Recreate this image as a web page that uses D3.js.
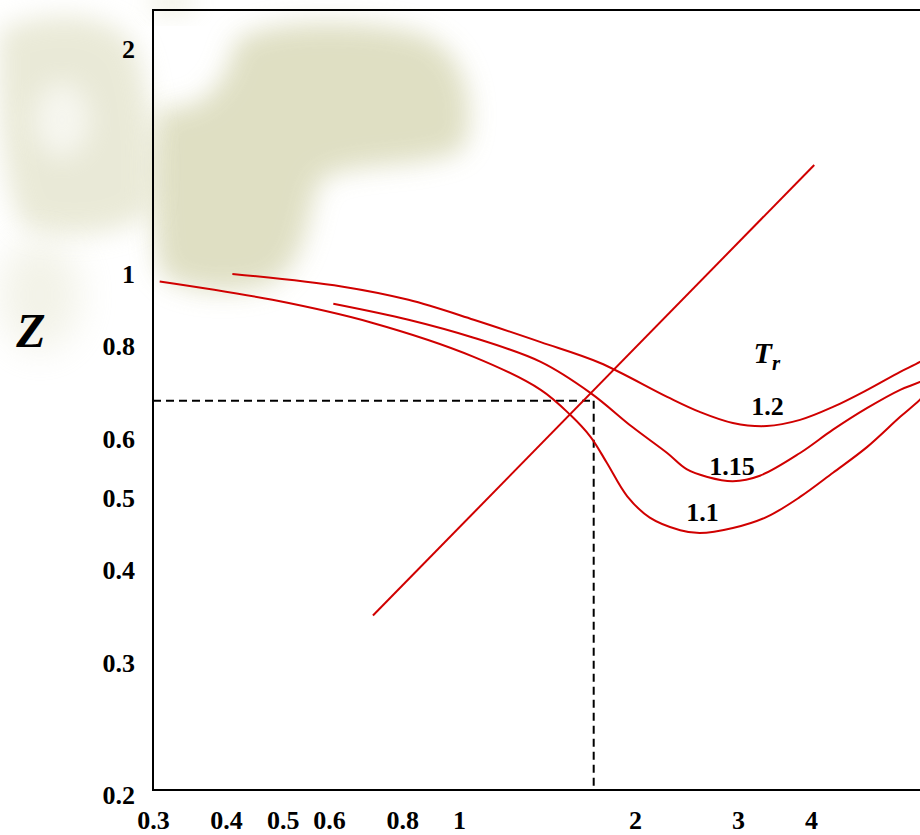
<!DOCTYPE html>
<html>
<head>
<meta charset="utf-8">
<script src="https://cdn.jsdelivr.net/npm/d3@7"></script>
<style>
  body { margin: 0; background: #fff; overflow: hidden; }
  svg { display: block; }
</style>
</head>
<body>
<svg id="chart"></svg>
<script>
(function() {

	// DATA
	var xTicks = [0.3, 0.4, 0.5, 0.6, 0.8, 1, 2, 3, 4];
	var yTicks = [0.2, 0.3, 0.4, 0.5, 0.6, 0.8, 1, 2];

	var trNames = ['1.2', '1.15', '1.1'];

	var pr12 = [0.41, 0.63, 0.82, 1.06, 1.38, 1.74, 2.27, 2.58, 2.94, 3.36, 3.83, 4.36, 4.99, 5.68, 6.14, 6.64];
	var z12  = [1.00, 0.962, 0.923, 0.868, 0.810, 0.760, 0.684, 0.653, 0.631, 0.625, 0.637, 0.663, 0.699, 0.739, 0.762, 0.792];

	var pr115 = [0.61, 0.82, 1.06, 1.38, 1.68, 1.98, 2.27, 2.45, 2.66, 2.94, 3.27, 3.83, 4.36, 4.99, 5.68, 6.14, 6.64];
	var z115  = [0.912, 0.868, 0.821, 0.762, 0.692, 0.623, 0.575, 0.547, 0.534, 0.527, 0.536, 0.575, 0.618, 0.661, 0.699, 0.716, 0.739];

	var pr11 = [0.308, 0.48, 0.71, 1.06, 1.38, 1.55, 1.68, 1.79, 1.94, 2.12, 2.39, 2.58, 2.94, 3.36, 3.83, 4.36, 4.99, 5.68, 6.14, 6.64];
	var z11  = [0.977, 0.923, 0.860, 0.774, 0.699, 0.647, 0.604, 0.558, 0.503, 0.471, 0.453, 0.449, 0.456, 0.472, 0.502, 0.541, 0.586, 0.643, 0.678, 0.723];

	// straight reference line and the dashed read-off point
	var linePr = [0.713, 4.05];
	var lineZ  = [0.348, 1.40];
	var readPr = 1.70;
	var readZ  = 0.676;

	// curve labels (anchored in data units)
	var labelPr = [3.37, 2.93, 2.61];
	var labelZ  = [0.647, 0.537, 0.466];
	var trTitlePr = 3.19;
	var trTitleZ  = 0.76;

	//VARS
	var width = 920;
	var height = 835;
	var margin = { top: 10, left: 153, bottom: 45 };
	var pxPerDecade = 585;
	var xDomain = [0.3, 7];
	var yDomain = [0.203, 2.26];
	var red = '#d00000';
	var serif = '"Liberation Serif", "Times New Roman", serif';
	var fontSize = 26;

	var svg = d3.select('#chart')
		.attr('width', width)
		.attr('height', height);

	var x = d3.scaleLog()
		.domain(xDomain)
		.range([margin.left, margin.left + pxPerDecade * Math.log10(xDomain[1] / xDomain[0])]);

	var y = d3.scaleLog()
		.domain(yDomain)
		.range([height - margin.bottom, margin.top]);

	// faint background watermark (decoration only)
	var defs = svg.append('defs');
	defs.append('filter')
		.attr('id', 'blur')
		.attr('x', '-50%').attr('y', '-50%').attr('width', '200%').attr('height', '200%')
		.append('feGaussianBlur')
		.attr('stdDeviation', 13);
	defs.append('filter')
		.attr('id', 'blur2')
		.attr('x', '-50%').attr('y', '-50%').attr('width', '200%').attr('height', '200%')
		.append('feGaussianBlur')
		.attr('stdDeviation', 18);

	var wm = svg.append('g').attr('class', 'watermark');
	var tan = '#dcdcbd';
	wm.append('path')
		.attr('d', 'M236,40 C270,20 360,18 420,34 C470,50 478,120 462,150 C420,170 350,160 320,180 C306,210 310,262 270,284 C230,296 180,292 160,272 C150,220 150,140 160,108 C190,110 222,104 236,40 Z')
		.attr('fill', tan)
		.attr('opacity', 0.9)
		.attr('filter', 'url(#blur)');
	wm.append('path')
		.attr('d', 'M0,30 C40,12 100,8 130,40 C150,70 156,160 150,210 C130,236 60,240 24,226 C2,200 -4,80 0,30 Z')
		.attr('fill', tan)
		.attr('opacity', 0.6)
		.attr('filter', 'url(#blur)');
	wm.append('ellipse')
		.attr('cx', 62).attr('cy', 120).attr('rx', 28).attr('ry', 38)
		.attr('fill', '#fff').attr('opacity', 0.6)
		.attr('filter', 'url(#blur)');
	wm.append('ellipse')
		.attr('cx', 40).attr('cy', 295).attr('rx', 40).attr('ry', 55)
		.attr('fill', tan).attr('opacity', 0.35)
		.attr('filter', 'url(#blur2)');
	wm.append('ellipse')
		.attr('cx', 172).attr('cy', 2).attr('rx', 24).attr('ry', 12)
		.attr('fill', tan).attr('opacity', 0.45)
		.attr('filter', 'url(#blur)');

	// frame
	svg.append('rect')
		.attr('x', x(xDomain[0]))
		.attr('y', y(yDomain[1]))
		.attr('width', x(xDomain[1]) - x(xDomain[0]))
		.attr('height', y(yDomain[0]) - y(yDomain[1]))
		.attr('fill', 'none')
		.attr('stroke', '#000')
		.attr('stroke-width', 2);

	// axes
	var axisX = d3.axisBottom(x)
		.tickValues(xTicks)
		.tickFormat(function(d) { return String(d); })
		.tickSize(0)
		.tickPadding(21);

	var axisY = d3.axisLeft(y)
		.tickValues(yTicks)
		.tickFormat(function(d) { return String(d); })
		.tickSize(0)
		.tickPadding(18);

	var gx = svg.append('g')
		.attr('class', 'axis axis--x')
		.attr('transform', 'translate(0,' + y(yDomain[0]) + ')')
		.call(axisX);

	var gy = svg.append('g')
		.attr('class', 'axis axis--y')
		.attr('transform', 'translate(' + x(xDomain[0]) + ',0)')
		.call(axisY);

	[gx, gy].forEach(function(g) {
		g.select('.domain').remove();
		g.selectAll('text')
			.attr('font-family', serif)
			.attr('font-weight', 'bold')
			.attr('font-size', fontSize)
			.attr('fill', '#000');
	});

	// dashed read-off lines
	var dash = svg.append('g').attr('class', 'read-off');
	dash.append('line')
		.attr('x1', x(xDomain[0])).attr('x2', x(readPr))
		.attr('y1', y(readZ)).attr('y2', y(readZ));
	dash.append('line')
		.attr('x1', x(readPr)).attr('x2', x(readPr))
		.attr('y1', y(readZ)).attr('y2', y(yDomain[0]));
	dash.selectAll('line')
		.attr('stroke', '#000')
		.attr('stroke-width', 2)
		.attr('stroke-dasharray', '8,5');

	// Tr curves
	var series = [
		{ name: trNames[0], pr: pr12, z: z12 },
		{ name: trNames[1], pr: pr115, z: z115 },
		{ name: trNames[2], pr: pr11, z: z11 }
	];

	var line = d3.line()
		.x(function(d) { return x(d[0]); })
		.y(function(d) { return y(d[1]); })
		.curve(d3.curveCatmullRom.alpha(0.5));

	svg.append('g')
		.attr('class', 'curves')
		.selectAll('path')
		.data(series)
		.enter().append('path')
		.attr('d', function(s) { return line(d3.zip(s.pr, s.z)); })
		.attr('fill', 'none')
		.attr('stroke', red)
		.attr('stroke-width', 2);

	// straight line
	svg.append('path')
		.attr('d', d3.line()
			.x(function(d) { return x(d[0]); })
			.y(function(d) { return y(d[1]); })(d3.zip(linePr, lineZ)))
		.attr('fill', 'none')
		.attr('stroke', red)
		.attr('stroke-width', 2);

	// curve labels
	svg.append('g')
		.attr('class', 'curve-labels')
		.selectAll('text')
		.data(trNames)
		.enter().append('text')
		.attr('x', function(d, i) { return x(labelPr[i]); })
		.attr('y', function(d, i) { return y(labelZ[i]); })
		.attr('text-anchor', 'middle')
		.attr('font-family', serif)
		.attr('font-weight', 'bold')
		.attr('font-size', fontSize)
		.text(function(d) { return d; });

	var tr = svg.append('text')
		.attr('x', x(trTitlePr))
		.attr('y', y(trTitleZ))
		.attr('font-family', serif)
		.attr('font-weight', 'bold')
		.attr('font-style', 'italic')
		.attr('font-size', 30);
	tr.append('tspan').text('T');
	tr.append('tspan').attr('font-size', 21).attr('dy', 7).text('r');

	// Z axis title
	svg.append('text')
		.attr('x', 31)
		.attr('y', 347)
		.attr('text-anchor', 'middle')
		.attr('font-family', serif)
		.attr('font-weight', 'bold')
		.attr('font-style', 'italic')
		.attr('font-size', 48)
		.text('Z');

})()
</script>
</body>
</html>
